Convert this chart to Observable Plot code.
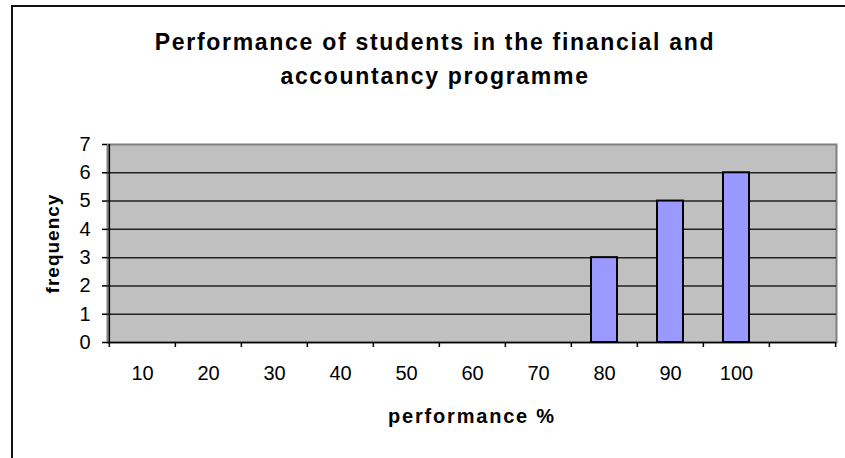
<!DOCTYPE html>
<html>
<head>
<meta charset="utf-8">
<script src="https://cdn.jsdelivr.net/npm/d3@7"></script>
<script src="https://cdn.jsdelivr.net/npm/@observablehq/plot@0.6"></script>
<style>
  html, body { margin: 0; padding: 0; background: #fff; overflow: hidden; }
  #page { position: relative; width: 845px; height: 458px; overflow: hidden; }
  #border { position: absolute; left: 11px; top: 5px; width: 900px; height: 500px;
            border-left: 2px solid #111; border-top: 2px solid #111; }
  #chart { position: absolute; left: 0; top: 0; }
  #chart svg { font-family: "Liberation Sans", Arial, sans-serif; }
</style>
</head>
<body>
<div id="page"><div id="border"></div><div id="chart"></div></div>
<script>
const titleText = "Performance of students in the financial and\naccountancy programme";
const xTitle = "performance %";
const yTitle = "frequency";
const categories = ["10", "20", "30", "40", "50", "60", "70", "80", "90", "100", ""];
const frequency = [0, 0, 0, 0, 0, 0, 0, 3, 5, 6, null];
const yTicks = [0, 1, 2, 3, 4, 5, 6, 7];
const gridValues = [1, 2, 3, 4, 5, 6];

const data = categories.map((c, i) => ({cat: c, value: frequency[i]}));

const W = 845, H = 458;
const mL = 107, mR = 9, mT = 144, mB = 116;
const bw = (W - mL - mR) / categories.length;
const font = "Liberation Sans, Arial, sans-serif";

const chart = Plot.plot({
  width: W,
  height: H,
  marginLeft: mL,
  marginRight: mR,
  marginTop: mT,
  marginBottom: mB,
  style: {fontFamily: font, fontSize: "20px", color: "#000", background: "transparent", overflow: "visible"},
  x: {type: "band", domain: categories, padding: 0, label: null},
  y: {domain: [0, 7], label: null},
  marks: [
    Plot.frame({fill: "#C0C0C0", stroke: "#808080", strokeWidth: 2}),
    Plot.gridY(gridValues, {stroke: "#222", strokeOpacity: 1, strokeWidth: 1.5}),
    Plot.barY(data.filter(d => d.value > 0), {
      x: "cat", y: "value", fill: "#9999FF", stroke: "#000", strokeWidth: 2,
      insetLeft: 20, insetRight: 20
    }),
    Plot.ruleY([0], {stroke: "#000", strokeWidth: 1.5}),
    Plot.ruleX([categories[0]], {x: d => d, dx: -bw / 2, stroke: "#000", strokeWidth: 1.5}),
    Plot.ruleX(categories, {x: d => d, dx: -bw / 2, y1: 0, y2: 0, insetBottom: -5, stroke: "#000", strokeWidth: 1.5}),
    Plot.ruleX([categories[categories.length - 1]], {x: d => d, dx: bw / 2, y1: 0, y2: 0, insetBottom: -5, stroke: "#000", strokeWidth: 1.5}),
    Plot.axisX({tickSize: 0, tickPadding: 23, fontSize: 20, fill: "#000"}),
    Plot.axisY(yTicks, {tickSize: 5, tickPadding: 12, fontSize: 20, fill: "#000", stroke: "#000", strokeWidth: 1.5}),
    Plot.text([titleText], {
      frameAnchor: "top", text: d => d, dx: -37, dy: -88.3, lineAnchor: "middle",
      lineHeight: 1.48, fontSize: 23, fontWeight: "bold", fill: "#000"
    }),
    Plot.text([xTitle], {
      frameAnchor: "bottom", text: d => d, dy: 74, lineAnchor: "middle", textAnchor: "middle",
      fontSize: 20, fontWeight: "bold", fill: "#000"
    }),
    Plot.text([yTitle], {
      frameAnchor: "left", text: d => d, dx: -55, rotate: -90, lineAnchor: "middle", textAnchor: "middle",
      fontSize: 19, fontWeight: "bold", fill: "#000"
    })
  ]
});

const sel = d3.select(chart).selectAll("text");
sel.filter(function () { return this.textContent === xTitle; }).style("letter-spacing", "1.8px");
sel.filter(function () { return this.textContent === yTitle; }).style("letter-spacing", "1px");
sel.filter(function () { return this.textContent.startsWith("Performance"); }).style("letter-spacing", "1.7px");
document.getElementById("chart").appendChild(chart);
</script>
</body>
</html>
